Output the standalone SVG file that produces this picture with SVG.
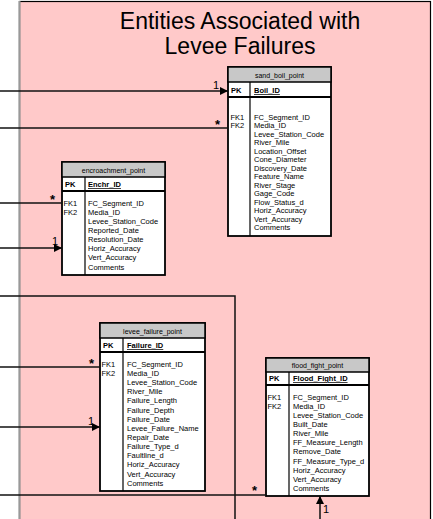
<svg xmlns="http://www.w3.org/2000/svg" width="433" height="519" viewBox="0 0 433 519">
<style>
text{font-family:"Liberation Sans",Arial,sans-serif;fill:#000}
.title{font-size:23px;text-anchor:middle}
.hdr{font-size:7px;text-anchor:middle}
.f{font-size:7.5px}
.pk{font-size:7.5px;font-weight:bold}
.pkf{font-size:7.5px;font-weight:bold;text-decoration:underline}
.box{fill:#fff;stroke:#000;stroke-width:1.8}
.head{fill:#c8c8c8;stroke:#000;stroke-width:1.5}
.sep{stroke:#000;stroke-width:1.2}
.sep2{stroke:#000;stroke-width:2}
.conn{fill:none;stroke:#111;stroke-width:1.5}
.one{font-size:11px}
.many{font-size:13px;font-weight:bold}
</style>
<defs>
<marker id="arr" markerUnits="userSpaceOnUse" markerWidth="9" markerHeight="9" refX="8" refY="4" orient="auto">
<path d="M0,0 L8,4 L0,8 z" fill="#000"/>
</marker>
</defs>
<rect x="0" y="0" width="433" height="519" fill="#fff"/>
<g id="panel">
<rect x="19.5" y="1.5" width="411" height="525" fill="#ffc9c9" stroke="#000" stroke-width="1.2"/>
<line x1="19.5" y1="1" x2="19.5" y2="519" stroke="#999" stroke-width="2"/>
<text class="title" x="240" y="29">Entities Associated with</text>
<text class="title" x="240" y="54">Levee Failures</text>
</g>
<g id="sand_boil_point">
<rect class="box" x="228" y="67" width="103" height="169"/>
<rect class="head" x="228" y="67" width="103" height="15"/>
<line class="sep2" x1="228" y1="97" x2="331" y2="97"/>
<line class="sep" x1="250" y1="82" x2="250" y2="236"/>
<text class="hdr" x="279.5" y="77.5">sand_boil_point</text>
<text class="pk" x="231" y="93">PK</text>
<text class="pkf" x="254" y="93">Boil_ID</text>
<text class="f" x="230.5" y="119.5">FK1</text>
<text class="f" x="230.5" y="128">FK2</text>
<text class="f" x="254" y="119.5">FC_Segment_ID</text>
<text class="f" x="254" y="128">Media_ID</text>
<text class="f" x="254" y="136.5">Levee_Station_Code</text>
<text class="f" x="254" y="145">River_Mile</text>
<text class="f" x="254" y="153.5">Location_Offset</text>
<text class="f" x="254" y="162">Cone_Diameter</text>
<text class="f" x="254" y="170.5">Discovery_Date</text>
<text class="f" x="254" y="179">Feature_Name</text>
<text class="f" x="254" y="187.5">River_Stage</text>
<text class="f" x="254" y="196">Gage_Code</text>
<text class="f" x="254" y="204.5">Flow_Status_d</text>
<text class="f" x="254" y="213">Horiz_Accuracy</text>
<text class="f" x="254" y="221.5">Vert_Accuracy</text>
<text class="f" x="254" y="230">Comments</text>
</g>
<g id="encroachment_point">
<rect class="box" x="62" y="162" width="103" height="113"/>
<rect class="head" x="62" y="162" width="103" height="15"/>
<line class="sep2" x1="62" y1="191" x2="165" y2="191"/>
<line class="sep" x1="85" y1="177" x2="85" y2="275"/>
<text class="hdr" x="113.5" y="172.5">encroachment_point</text>
<text class="pk" x="65" y="187">PK</text>
<text class="pkf" x="88" y="187">Enchr_ID</text>
<text class="f" x="63.5" y="205.8">FK1</text>
<text class="f" x="63.5" y="214.9">FK2</text>
<text class="f" x="88" y="205.8">FC_Segment_ID</text>
<text class="f" x="88" y="214.9">Media_ID</text>
<text class="f" x="88" y="224">Levee_Station_Code</text>
<text class="f" x="88" y="233.1">Reported_Date</text>
<text class="f" x="88" y="242.2">Resolution_Date</text>
<text class="f" x="88" y="251.3">Horiz_Accuracy</text>
<text class="f" x="88" y="260.4">Vert_Accuracy</text>
<text class="f" x="88" y="269.5">Comments</text>
</g>
<g id="levee_failure_point">
<rect class="box" x="100" y="323" width="105" height="168"/>
<rect class="head" x="100" y="323" width="105" height="15"/>
<line class="sep2" x1="100" y1="352" x2="205" y2="352"/>
<line class="sep" x1="123" y1="338" x2="123" y2="491"/>
<text class="hdr" x="152.5" y="333.5">levee_failure_point</text>
<text class="pk" x="103" y="348">PK</text>
<text class="pkf" x="127" y="348">Failure_ID</text>
<text class="f" x="101.5" y="366.8">FK1</text>
<text class="f" x="101.5" y="375.9">FK2</text>
<text class="f" x="127" y="366.8">FC_Segment_ID</text>
<text class="f" x="127" y="375.9">Media_ID</text>
<text class="f" x="127" y="385.1">Levee_Station_Code</text>
<text class="f" x="127" y="394.2">River_Mile</text>
<text class="f" x="127" y="403.4">Failure_Length</text>
<text class="f" x="127" y="412.5">Failure_Depth</text>
<text class="f" x="127" y="421.7">Failure_Date</text>
<text class="f" x="127" y="430.8">Levee_Failure_Name</text>
<text class="f" x="127" y="440">Repair_Date</text>
<text class="f" x="127" y="449.1">Failure_Type_d</text>
<text class="f" x="127" y="458.3">Faultline_d</text>
<text class="f" x="127" y="467.4">Horiz_Accuracy</text>
<text class="f" x="127" y="476.6">Vert_Accuracy</text>
<text class="f" x="127" y="485.7">Comments</text>
</g>
<g id="flood_fight_point">
<rect class="box" x="266" y="358" width="103" height="138"/>
<rect class="head" x="266" y="358" width="103" height="14"/>
<line class="sep2" x1="266" y1="385" x2="369" y2="385"/>
<line class="sep" x1="289" y1="372" x2="289" y2="496"/>
<text class="hdr" x="317.5" y="367.5">flood_fight_point</text>
<text class="pk" x="269" y="381">PK</text>
<text class="pkf" x="293" y="381">Flood_Fight_ID</text>
<text class="f" x="267.5" y="399.8">FK1</text>
<text class="f" x="267.5" y="408.9">FK2</text>
<text class="f" x="293" y="399.8">FC_Segment_ID</text>
<text class="f" x="293" y="408.9">Media_ID</text>
<text class="f" x="293" y="418">Levee_Station_Code</text>
<text class="f" x="293" y="427.1">Built_Date</text>
<text class="f" x="293" y="436.2">River_Mile</text>
<text class="f" x="293" y="445.3">FF_Measure_Length</text>
<text class="f" x="293" y="454.4">Remove_Date</text>
<text class="f" x="293" y="463.5">FF_Measure_Type_d</text>
<text class="f" x="293" y="472.6">Horiz_Accuracy</text>
<text class="f" x="293" y="481.7">Vert_Accuracy</text>
<text class="f" x="293" y="490.8">Comments</text>
</g>
<g id="connectors">
<line class="conn" x1="0" y1="91" x2="228" y2="91" marker-end="url(#arr)"/>
<text class="one" x="213" y="89">1</text>
<line class="conn" x1="0" y1="128" x2="228" y2="128"/>
<text class="many" x="215" y="129">*</text>
<line class="conn" x1="0" y1="203" x2="62" y2="203"/>
<text class="many" x="50" y="204">*</text>
<line class="conn" x1="0" y1="248" x2="62" y2="248" marker-end="url(#arr)"/>
<text class="one" x="52" y="245">1</text>
<polyline class="conn" points="0,296 235,296 235,519"/>
<line class="conn" x1="0" y1="367" x2="100" y2="367"/>
<text class="many" x="89" y="368">*</text>
<line class="conn" x1="0" y1="427" x2="100" y2="427" marker-end="url(#arr)"/>
<text class="one" x="88" y="425">1</text>
<line class="conn" x1="0" y1="495" x2="266" y2="495"/>
<text class="many" x="252" y="495">*</text>
<line class="conn" x1="320" y1="519" x2="320" y2="496" marker-end="url(#arr)"/>
<text class="one" x="323" y="513">1</text>
</g>
</svg>
